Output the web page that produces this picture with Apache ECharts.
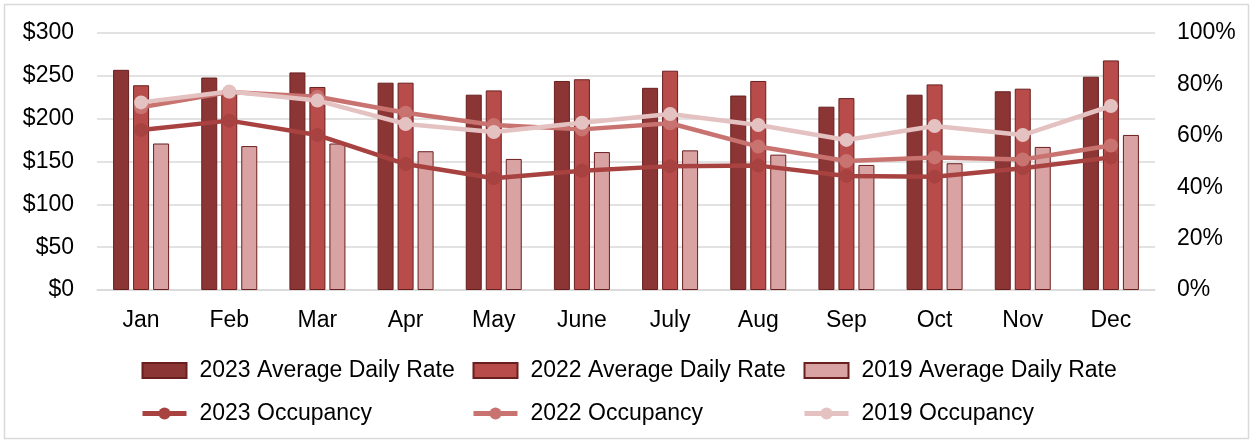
<!DOCTYPE html>
<html>
<head>
<meta charset="utf-8">
<script src="https://cdn.jsdelivr.net/npm/echarts@6/dist/echarts.min.js"></script>
<style>
  html, body { margin: 0; padding: 0; background: #fff; }
  #chart { width: 1253px; height: 443px; }
</style>
</head>
<body>
<div id="chart"></div>
<script>
// months on the x axis
const months = ['Jan', 'Feb', 'Mar', 'Apr', 'May', 'June', 'July', 'Aug', 'Sep', 'Oct', 'Nov', 'Dec'];

// average daily rate, dollars
const adr2023 = [257, 248, 254, 242, 228, 244, 236, 227, 214, 228, 232, 249];
const adr2022 = [239, 231, 237, 242, 233, 246, 256, 244, 224, 240, 235, 268];
const adr2019 = [171, 168, 171, 162, 153, 161, 163, 158, 146, 148, 167, 181];

// occupancy, fraction
const occ2023 = [0.623, 0.659, 0.603, 0.49, 0.435, 0.464, 0.482, 0.484, 0.444, 0.441, 0.474, 0.516];
const occ2022 = [0.711, 0.77, 0.752, 0.69, 0.642, 0.625, 0.649, 0.558, 0.502, 0.516, 0.508, 0.562];
const occ2019 = [0.73, 0.772, 0.737, 0.646, 0.615, 0.651, 0.685, 0.642, 0.584, 0.638, 0.603, 0.716];

const leftTicks = { min: 0, max: 300, interval: 50 };
const rightTicks = { min: 0, max: 1, interval: 0.2 };

const font = 'Liberation Sans, Arial, sans-serif';
const fontSize = 23;
const textColor = '#000';
const barBorder = '#6a1f1f';

const chart = echarts.init(document.getElementById('chart'));

const barSeries = (name, data, color) => ({
    name: name,
    type: 'bar',
    data: data,
    barWidth: 16,
    barGap: '25%',
    itemStyle: {
        color: color,
        borderColor: barBorder,
        borderWidth: 1
    }
});

const lineSeries = (name, data, color) => ({
    name: name,
    type: 'line',
    yAxisIndex: 1,
    data: data,
    symbol: 'circle',
    symbolSize: 14,
    itemStyle: { color: color },
    lineStyle: { color: color, width: 4.5, join: 'round' },
    z: 3
});

// one legend per column so the two rows line up like the original
const legendCol = (left, barName, lineName) => ({
    orient: 'vertical',
    left: left,
    top: 354,
    itemWidth: 44,
    itemHeight: 15,
    itemGap: 20,
    lineStyle: { width: 5 },
    textStyle: {
        fontFamily: font,
        fontSize: fontSize,
        color: textColor,
        padding: [0, 0, 0, 8]
    },
    data: [{ name: barName, icon: 'rect' }, { name: lineName }]
});

const option = {
    animation: false,
    backgroundColor: '#fff',
    graphic: [{
        type: 'rect',
        shape: { x: 4.5, y: 4.5, width: 1244, height: 434 },
        style: { fill: 'none', stroke: '#d9d9d9', lineWidth: 1.5 },
        silent: true
    }],
    grid: {
        left: 97,
        right: 98,
        top: 33,
        bottom: 153
    },
    legend: [
        legendCol(135, '2023 Average Daily Rate', '2023 Occupancy'),
        legendCol(466, '2022 Average Daily Rate', '2022 Occupancy'),
        legendCol(797, '2019 Average Daily Rate', '2019 Occupancy')
    ],
    xAxis: {
        type: 'category',
        data: months,
        axisTick: { show: false },
        axisLine: { lineStyle: { color: '#d9d9d9', width: 1.5 } },
        axisLabel: {
            fontFamily: font,
            fontSize: fontSize,
            color: textColor,
            margin: 19
        }
    },
    yAxis: [{
        type: 'value',
        min: leftTicks.min,
        max: leftTicks.max,
        interval: leftTicks.interval,
        axisLine: { show: false },
        axisTick: { show: false },
        axisLabel: {
            fontFamily: font,
            fontSize: fontSize,
            color: textColor,
            margin: 23,
            formatter: v => '$' + v
        },
        splitLine: { lineStyle: { color: '#d9d9d9', width: 1.5 } }
    }, {
        type: 'value',
        min: rightTicks.min,
        max: rightTicks.max,
        interval: rightTicks.interval,
        axisLine: { show: false },
        axisTick: { show: false },
        splitLine: { show: false },
        axisLabel: {
            fontFamily: font,
            fontSize: fontSize,
            color: textColor,
            margin: 22,
            formatter: v => Math.round(v * 100) + '%'
        }
    }],
    series: [
        barSeries('2023 Average Daily Rate', adr2023, '#8b3535'),
        barSeries('2022 Average Daily Rate', adr2022, '#b84c4a'),
        barSeries('2019 Average Daily Rate', adr2019, '#d9a3a3'),
        lineSeries('2023 Occupancy', occ2023, '#a84240'),
        lineSeries('2022 Occupancy', occ2022, '#c97370'),
        lineSeries('2019 Occupancy', occ2019, '#e5c2c2')
    ]
};

chart.setOption(option);
</script>
</body>
</html>
